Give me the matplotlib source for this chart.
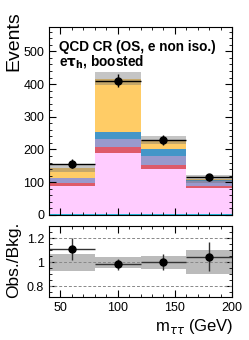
import numpy as np
import matplotlib
matplotlib.use("Agg")
import matplotlib.pyplot as plt
from matplotlib.ticker import MultipleLocator

plt.rcParams['font.family'] = ['Liberation Sans', 'DejaVu Sans']

# ############ Datos
bordes = [40, 80, 120, 160, 200]

# componentes del fondo (apiladas de abajo hacia arriba)
bkg_cian = [2, 2, 2, 2]
bkg_qcd = [86, 187, 138, 79]
bkg_rojo = [10, 18, 13, 7]
bkg_ttbar = [14, 26, 27, 16]
bkg_zll = [1, 20, 21, 2]
bkg_ztt = [29, 164, 28, 4]

# incertidumbre relativa del fondo
unc_rel = [0.07, 0.045, 0.055, 0.10]

# datos observados
datos = [157, 410, 229, 115]
datos_err = [12.5, 20, 15, 11]

# cociente Obs./Bkg.
ratio = [1.108, 0.983, 1.0, 1.044]
ratio_err = [0.09, 0.045, 0.065, 0.12]

componentes = [bkg_cian, bkg_qcd, bkg_rojo, bkg_ttbar, bkg_zll, bkg_ztt]
colores = ['#1fb6d8', '#ffccff', '#de5a6a', '#9999cc', '#4496c8', '#ffcc66']

# ############ Figura
fig = plt.figure(figsize=(2.49, 3.40), dpi=100)
ax = fig.add_axes([0.197, 0.368, 0.735, 0.553])
axr = fig.add_axes([0.197, 0.126, 0.735, 0.209])

bordes = np.array(bordes)
centros = 0.5 * (bordes[:-1] + bordes[1:])
anchos = np.diff(bordes)

base = np.zeros(4)
for valores, color in zip(componentes, colores):
    ax.bar(bordes[:-1], valores, width=anchos, bottom=base, align='edge',
           color=color, edgecolor='none', linewidth=0)
    base = base + np.array(valores)
total = base

err_abs = total * np.array(unc_rel)
ax.bar(bordes[:-1], 2 * err_abs, width=anchos, bottom=total - err_abs,
       align='edge', color='#707070', alpha=0.4, edgecolor='none', linewidth=0)

ax.errorbar(centros, datos, xerr=anchos / 2, yerr=datos_err, fmt='o',
            color='black', markersize=5, elinewidth=1.0, capsize=0)

ax.set_xlim(40, 200)
ax.set_ylim(0, 575)
ax.yaxis.set_major_locator(MultipleLocator(100))
ax.yaxis.set_minor_locator(MultipleLocator(20))
ax.xaxis.set_major_locator(MultipleLocator(50))
ax.xaxis.set_minor_locator(MultipleLocator(10))
ax.tick_params(which='both', direction='in', top=True, right=True, labelsize=9)
ax.tick_params(which='major', length=5)
ax.tick_params(which='minor', length=2.5)
ax.tick_params(axis='x', labelbottom=False)
ax.text(0.055, 0.894, "QCD CR (OS, e non iso.)", transform=ax.transAxes,
        fontsize=9.8, fontweight='bold', va='center')
ax.text(0.055, 0.814, r"e$\mathbf{\tau_h}$, boosted", transform=ax.transAxes,
        fontsize=9.8, fontweight='bold', va='center')

# panel del cociente
unc = np.array(unc_rel)
axr.bar(bordes[:-1], 2 * unc, width=anchos, bottom=1 - unc, align='edge',
        color='#bbbbbb', edgecolor='none', linewidth=0)
for yv in [0.8, 1.0, 1.2]:
    axr.axhline(yv, color='#888888', linestyle=(0, (3, 2)), linewidth=0.7)
axr.errorbar(centros, ratio, xerr=anchos / 2, yerr=ratio_err, fmt='o',
             color='black', markersize=5, elinewidth=1.0, capsize=0,
             ecolor='#333333')
axr.set_xlim(40, 200)
axr.set_ylim(0.71, 1.30)
axr.set_yticks([0.8, 1.0, 1.2])
axr.set_yticklabels(["0.8", "1", "1.2"])
axr.yaxis.set_minor_locator(MultipleLocator(0.05))
axr.xaxis.set_major_locator(MultipleLocator(50))
axr.xaxis.set_minor_locator(MultipleLocator(10))
axr.tick_params(which='both', direction='in', top=True, right=True, labelsize=9)
axr.tick_params(which='major', length=5)
axr.tick_params(which='minor', length=2.5)

fig.text(14 / 249, 1 - 41 / 340, "Events", rotation=90, fontsize=14,
         ha='center', va='center')
fig.text(14 / 249, 1 - 260 / 340, "Obs./Bkg.", rotation=90, fontsize=12.5,
         ha='center', va='center')
fig.text(233 / 249, 1 - 326 / 340, r"m$_{\tau\tau}$ (GeV)", fontsize=12,
         ha='right', va='center')

fig.savefig("out.png", dpi=100)
